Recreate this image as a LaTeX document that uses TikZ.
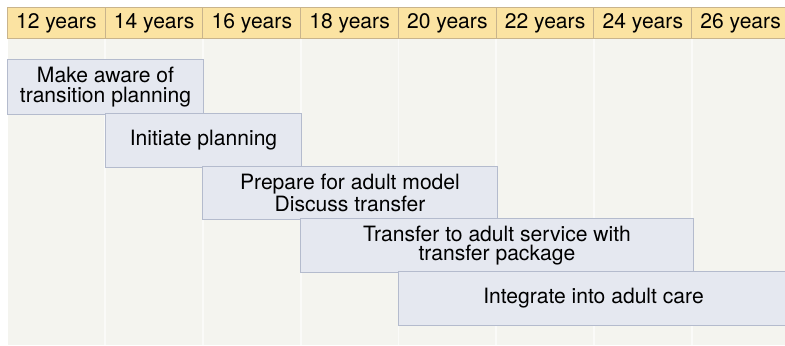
\documentclass[tikz,border=0pt]{standalone}
\usepackage{fontspec}
\setmainfont{TeX Gyre Heros}
\usepackage{xcolor}
\usetikzlibrary{positioning,calc}

\definecolor{hdrfill}{HTML}{FBE3A2}
\definecolor{hdrline}{HTML}{C9B48C}
\definecolor{boxfill}{HTML}{E5E8F0}
\definecolor{boxline}{HTML}{B4BBCD}
\definecolor{bgfill}{HTML}{F4F4EF}
\definecolor{stripe}{HTML}{FAFAF8}

\tikzset{
    agecell/.style={rectangle,draw=hdrline,fill=hdrfill,line width=0.7pt,
        minimum width=2.444cm,minimum height=0.75cm,inner sep=0pt},
    stagebox/.style={rectangle,draw=boxline,fill=boxfill,line width=0.7pt,
        align=center,inner sep=0pt,minimum height=1.325cm}
}

\begin{document}
\begin{tikzpicture}[x=0.025cm,y=-0.025cm,font=\fontsize{15}{13.8}\selectfont]
    \clip (0,0) rectangle (785,346);
    \useasboundingbox (0,0) rectangle (785,346);
    \fill[white] (0,0) rectangle (785,346);

    % Background and column stripes
    \fill[bgfill] (8,38) rectangle (790,345);
    \foreach \i in {1,...,7} {
        \draw[stripe,line width=1.2pt] (7.5+97.75*\i,38) -- (7.5+97.75*\i,345);
    }

    % Age header
    \foreach \a [count=\i from 0] in {12,14,16,18,20,22,24,26} {
        \node[agecell] (age\a) at (7.5+97.75*\i+48.875,23) {\a\ years};
    }

    % Stages
    \node[stagebox,minimum width=4.875cm,minimum height=1.35cm] (aware) at (105.5,87)
        {Make aware of\\transition planning};
    \node[stagebox,minimum width=4.875cm] (initiate) at (203.5,140.5) {Initiate planning};
    \node[stagebox,minimum width=7.35cm,minimum height=1.3cm] (prepare) at (350,193)
        {Prepare for adult model\\Discuss transfer};
    \node[stagebox,minimum width=9.8cm] (transfer) at (497,245.5)
        {Transfer to adult service with\\transfer package};
    \node[stagebox,minimum width=9.725cm] (integrate) at (593.5,298.5)
        {Integrate into adult care};
\end{tikzpicture}
\end{document}
